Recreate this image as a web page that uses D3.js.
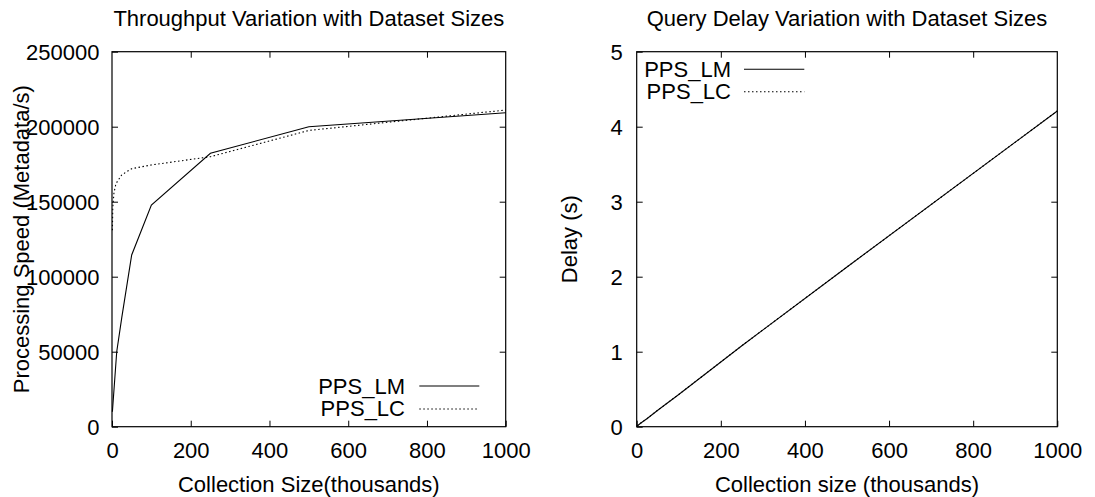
<!DOCTYPE html>
<html>
<head>
<meta charset="utf-8">
<script src="https://cdn.jsdelivr.net/npm/d3@7"></script>
<style>
  html, body { margin: 0; padding: 0; background: #fff; }
  svg { display: block; }
  text { font-family: "Liberation Sans", Arial, Helvetica, sans-serif; font-size: 22px; fill: #000; }
</style>
</head>
<body>
<svg id="chart" width="1095" height="497"></svg>
<script>
// ---- Data ----
const throughputTitle = "Throughput Variation with Dataset Sizes";
const delayTitle = "Query Delay Variation with Dataset Sizes";
const throughputXLabel = "Collection Size(thousands)";
const throughputYLabel = "Processing Speed (Metadata/s)";
const delayXLabel = "Collection size (thousands)";
const delayYLabel = "Delay (s)";
const seriesNames = ["PPS_LM", "PPS_LC"];

const xTicks = [0, 200, 400, 600, 800, 1000];
const throughputYTicks = [0, 50000, 100000, 150000, 200000, 250000];
const delayYTicks = [0, 1, 2, 3, 4, 5];

// Throughput, PPS_LM
const lmSizes = [1, 12, 25, 50, 100, 250, 500, 1000];
const lmThroughput = [10000, 50000, 73000, 114500, 147800, 182300, 200000, 209300];
// Throughput, PPS_LC
const lcSizes = [1, 2, 5, 10, 25, 50, 100, 250, 500, 1000];
const lcThroughput = [131000, 146000, 156000, 162000, 168000, 172000, 174500, 180000, 197500, 211100];

// Query delay (both series overlap)
const delaySizes = [1, 10, 25, 50, 100, 250, 500, 1000];
const lmDelay = [0.01, 0.05, 0.11, 0.22, 0.43, 1.08, 2.13, 4.21];
const lcDelay = [0.01, 0.05, 0.11, 0.22, 0.43, 1.08, 2.13, 4.21];

// ---- Drawing ----
const svg = d3.select("#chart");
const TOP = 51.7, BOTTOM = 426.7, TICK = 6;

function panel(opts) {
  const g = svg.append("g");
  const x = d3.scaleLinear().domain([0, 1000]).range([opts.left, opts.right]);
  const y = d3.scaleLinear().domain(opts.yDomain).range([BOTTOM, TOP]);

  // bottom axis
  const bx = g.append("g").attr("transform", `translate(0,${BOTTOM})`)
    .call(d3.axisBottom(x).tickValues(xTicks).tickSizeInner(-TICK).tickSizeOuter(0).tickFormat(d3.format("d")));
  bx.select(".domain").remove();
  bx.selectAll("line").attr("stroke", "#000");
  bx.selectAll("text").attr("y", 31.5).attr("dy", null).attr("font-size", 22).attr("font-family", null);

  // top mirror ticks
  const tx = g.append("g").attr("transform", `translate(0,${TOP})`)
    .call(d3.axisTop(x).tickValues(xTicks.slice(1, -1)).tickSizeInner(-TICK).tickSizeOuter(0).tickFormat(""));
  tx.select(".domain").remove();
  tx.selectAll("line").attr("stroke", "#000");

  // left axis
  const ly = g.append("g").attr("transform", `translate(${opts.left},0)`)
    .call(d3.axisLeft(y).tickValues(opts.yTicks).tickSizeInner(-TICK).tickSizeOuter(0).tickFormat(d3.format("d")));
  ly.select(".domain").remove();
  ly.selectAll("line").attr("stroke", "#000");
  ly.selectAll("text").attr("x", -opts.labelGap).attr("dy", "0.36em").attr("font-size", 22).attr("font-family", null);

  // right mirror ticks
  const ry = g.append("g").attr("transform", `translate(${opts.right},0)`)
    .call(d3.axisRight(y).tickValues(opts.yTicks.slice(1, -1)).tickSizeInner(-TICK).tickSizeOuter(0).tickFormat(""));
  ry.select(".domain").remove();
  ry.selectAll("line").attr("stroke", "#000");

  // frame
  g.append("rect")
    .attr("x", opts.left).attr("y", TOP)
    .attr("width", opts.right - opts.left).attr("height", BOTTOM - TOP)
    .attr("fill", "none").attr("stroke", "#000").attr("stroke-width", 1.2);

  // series
  const line = d3.line().x(d => x(d[0])).y(d => y(d[1]));
  opts.series.forEach(s => {
    g.append("path")
      .datum(d3.zip(s.xs, s.ys))
      .attr("d", line)
      .attr("fill", "none")
      .attr("stroke", "#000")
      .attr("stroke-width", 1.1)
      .attr("stroke-dasharray", s.dashed ? "1.5,2.5" : null);
  });

  // title
  g.append("text").attr("x", (opts.left + opts.right) / 2).attr("y", 26)
    .attr("text-anchor", "middle").text(opts.title);
  // x label
  g.append("text").attr("x", (opts.left + opts.right) / 2).attr("y", 491.5)
    .attr("text-anchor", "middle").text(opts.xLabel);
  // y label
  g.append("text")
    .attr("transform", `translate(${opts.yLabelX},${(TOP + BOTTOM) / 2}) rotate(-90)`)
    .attr("text-anchor", "middle").text(opts.yLabel);

  // legend
  opts.legend.forEach((l, i) => {
    g.append("text").attr("x", l.textX).attr("y", l.baseline)
      .attr("text-anchor", "end").text(seriesNames[i]);
    g.append("line")
      .attr("x1", l.lineX1).attr("x2", l.lineX2)
      .attr("y1", l.lineY).attr("y2", l.lineY)
      .attr("stroke", "#000").attr("stroke-width", 1.1)
      .attr("stroke-dasharray", i === 1 ? "1.5,2.5" : null);
  });
}

panel({
  left: 112, right: 505.7,
  yDomain: [0, 250000], yTicks: throughputYTicks, labelGap: 12.5,
  title: throughputTitle, xLabel: throughputXLabel, yLabel: throughputYLabel, yLabelX: 28.5,
  series: [
    { xs: lcSizes, ys: lcThroughput, dashed: true },
    { xs: lmSizes, ys: lmThroughput, dashed: false }
  ],
  legend: [
    { textX: 405, baseline: 394.3, lineX1: 419.3, lineX2: 479.3, lineY: 386 },
    { textX: 405, baseline: 416.3, lineX1: 419.3, lineX2: 479.3, lineY: 409 }
  ]
});

panel({
  left: 636.7, right: 1057.3,
  yDomain: [0, 5], yTicks: delayYTicks, labelGap: 14,
  title: delayTitle, xLabel: delayXLabel, yLabel: delayYLabel, yLabelX: 577.3,
  series: [
    { xs: delaySizes, ys: lcDelay, dashed: true },
    { xs: delaySizes, ys: lmDelay, dashed: false }
  ],
  legend: [
    { textX: 731, baseline: 76.7, lineX1: 744, lineX2: 804.3, lineY: 69.3 },
    { textX: 731, baseline: 99, lineX1: 744, lineX2: 804.3, lineY: 91.7 }
  ]
});
</script>
</body>
</html>
